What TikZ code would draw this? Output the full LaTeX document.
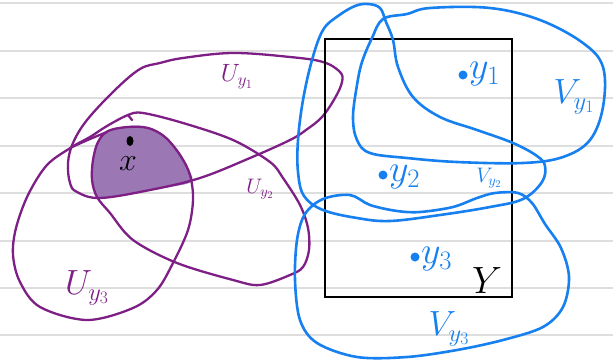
\RequirePackage{fix-cm}
\documentclass[tikz,border=0pt]{standalone}
\usepackage{xcolor}
\usetikzlibrary{shapes.geometric}
\definecolor{upurple}{RGB}{126,31,134}
\definecolor{blobfill}{RGB}{155,120,180}
\definecolor{vblue}{RGB}{22,128,240}
\definecolor{rulegray}{gray}{0.87}

\begin{document}
\begin{tikzpicture}[x=1pt, y=-1pt,
  ruled/.style={draw=rulegray, line width=1.6pt},
  uset/.style={draw=upurple, line width=2.3pt, line join=round, line cap=round},
  vset/.style={draw=vblue, line width=2.6pt, line join=round},
  ydot/.style={circle, fill=vblue, inner sep=0pt, minimum size=9pt},
  ulbl/.style={text=upurple, inner sep=0pt, font=\fontsize{#1}{#1}\selectfont},
  vlbl/.style={text=vblue, inner sep=0pt, font=\fontsize{#1}{#1}\selectfont}
]
  \path[use as bounding box, fill=white] (0,0) rectangle (613,361);

  % notebook rules
  \foreach \r in {3,51,98,146,193,241,288,335}
    \draw[ruled] (0,\r) -- (613,\r);

  % shaded intersection around x
  \fill[blobfill] plot[smooth cycle, tension=0.6] coordinates {
    (107,131) (128,126) (148,127) (165,136) (180,153) (190,172) (191,182)
    (170,187) (140,192) (100,198) (93,185) (92,165) (96,145)};

  % U_{y_1}
  \draw[uset] plot[smooth cycle, tension=0.6] coordinates {
    (140,69) (160,63) (183,58) (233,53) (290,57) (323,62) (340,72) (342,82)
    (335,98) (322,117) (306,130) (290,140) (250,158) (200,178) (150,190)
    (100,198) (77,192) (70,183) (68,163) (73,143) (87,120) (115,90)};

  % U_{y_2} and U_{y_3}, one stroke
  \draw[uset] plot[smooth cycle, tension=0.55] coordinates {
    (128,115) (107,126) (90,137) (72,147) (47,165) (28,195) (16,228) (13,255)
    (20,282) (40,307) (87,320) (133,308) (157,290) (173,263) (188,230)
    (193,200) (190,175) (180,155) (165,137) (148,128) (128,127) (108,131)
    (98,142) (93,160) (92,180) (97,197) (110,213) (133,240) (177,263)
    (233,280) (260,285) (290,275) (303,267) (309,250) (308,228) (300,205)
    (283,178) (270,162) (233,140) (183,123) (143,113)};
  \draw[uset] plot[smooth, tension=0.6] coordinates {(72,147) (90,139) (107,132)};
  \draw[uset] (128,115) -- (132,120);

  % Y
  \node[draw, line width=2.5pt, minimum width=187pt, minimum height=258pt,
    inner sep=0pt] (yset) at (418.5,168) {};
  \node[inner sep=0pt, font=\fontsize{38}{38}\selectfont] (ylbl) at (487,281) {$Y$};

  % V_{y_1}, V_{y_2}, V_{y_3}
  \draw[vset] plot[smooth cycle, tension=0.6] coordinates {
    (383,19) (407,14) (430,8) (490,8) (540,20) (583,43) (603,67) (603,107)
    (590,140) (563,157) (523,163) (457,162) (407,158) (370,153) (357,140)
    (353,117) (357,85) (362,62) (372,38)};
  \draw[vset] plot[smooth cycle, tension=0.6] coordinates {
    (368,4) (380,8) (386,22) (393,40) (398,67) (413,97) (440,117) (477,130)
    (513,143) (537,156) (545,166) (542,182) (523,199) (490,207) (440,215)
    (390,221) (357,218) (323,210) (304,196) (298,172) (298,140) (303,100)
    (312,60) (323,30) (338,16) (355,6)};
  \draw[vset] plot[smooth cycle, tension=0.55] coordinates {
    (350,195) (370,205) (397,211) (420,212) (453,207) (477,198) (495,193)
    (518,193) (532,203) (545,224) (561,248) (569,277) (563,307) (543,327)
    (503,340) (457,350) (407,357) (357,357) (317,343) (300,320) (295,280)
    (297,240) (305,214) (323,199)};

  % points
  \node[ellipse, fill=black, minimum width=7pt, minimum height=10pt,
    inner sep=0pt] (xdot) at (130,141) {};
  \node[inner sep=0pt, font=\fontsize{32}{32}\selectfont] (xlbl) at (128,164) {$x$};
  \node[ydot] (y1) at (463,75) {};
  \node[ydot] (y2) at (383,175) {};
  \node[ydot] (y3) at (415,257) {};
  \node[vlbl=38, anchor=west] (y1lbl) at (469,74) {$y_1$};
  \node[vlbl=38, anchor=west] (y2lbl) at (389,177) {$y_2$};
  \node[vlbl=38, anchor=west] (y3lbl) at (421,259) {$y_3$};

  % labels
  \node[ulbl=25] (u1lbl) at (237,77) {$U_{y_1}$};
  \node[ulbl=21] (u2lbl) at (260,189) {$U_{y_2}$};
  \node[ulbl=35] (u3lbl) at (87,288) {$U_{y_3}$};
  \node[vlbl=35] (v1lbl) at (574,97) {$V_{y_1}$};
  \node[vlbl=21] (v2lbl) at (489,178) {$V_{y_2}$};
  \node[vlbl=35] (v3lbl) at (449,329) {$V_{y_3}$};
\end{tikzpicture}
\end{document}
